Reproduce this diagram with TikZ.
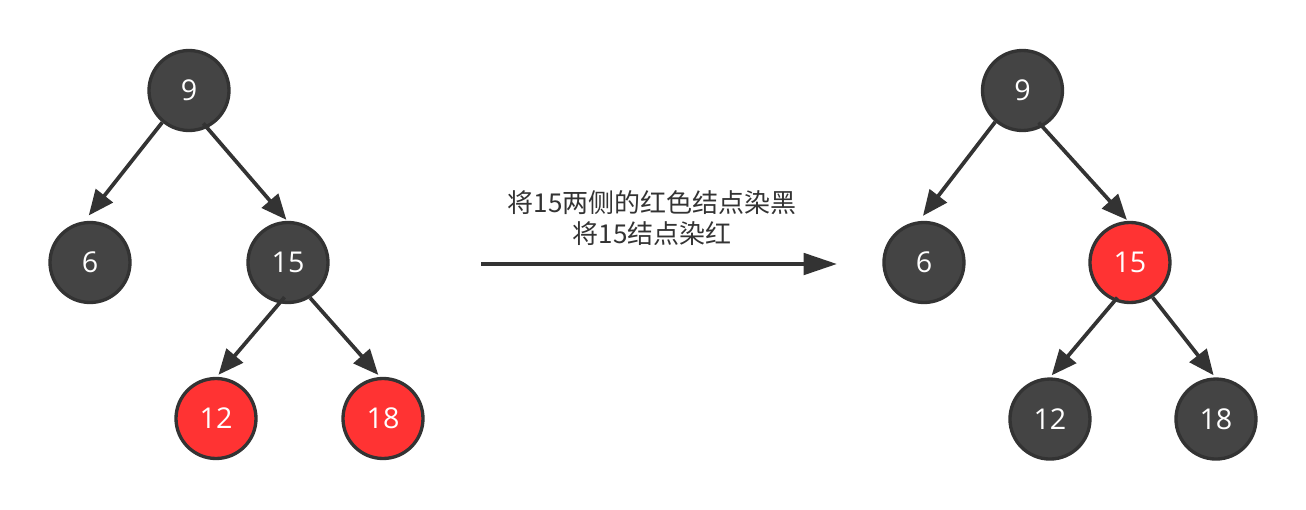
\documentclass[tikz,border=0pt]{standalone}
\usepackage{fontspec}
\setmainfont{Open Sans}
\newfontfamily\cjk{Noto Sans CJK SC}
\usepackage{xcolor}
\usetikzlibrary{arrows.meta,positioning}
\definecolor{nodegray}{HTML}{444444}
\definecolor{linegray}{HTML}{333333}
\definecolor{nodered}{HTML}{FF3333}

\begin{document}
\begin{tikzpicture}[
  x=0.75pt, y=-0.75pt,
  every node/.style={font=\fontsize{21.5pt}{25pt}\selectfont},
  blacknode/.style={
    draw=linegray, circle, fill=nodegray, text=white,
    line width=2.5pt, minimum size=60pt, inner sep=0pt, on grid
  },
  rednode/.style={blacknode, fill=nodered},
  treeedge/.style={-{Triangle[length=19pt,width=16pt]}, draw=linegray, line width=2.8pt},
  stepedge/.style={-{Triangle[length=25pt,width=16pt]}, draw=linegray, line width=3pt}
]
\useasboundingbox (0,0) rectangle (1306,510);

% --- Tree before ---
\node[blacknode] (l9) at (189,90.5) {9};
\node[blacknode, below left=129pt and 74.25pt of l9] (l6) {6};
\node[blacknode, below right=129pt and 74.25pt of l9] (l15) {15};
\node[rednode, below left=117pt and 54pt of l15] (l12) {12};
\node[rednode, below right=117pt and 71.25pt of l15] (l18) {18};

\draw[treeedge, shorten >=5.5pt] (l9.-130) -- (l6.98);
\draw[treeedge, shorten <=-4.5pt, shorten >=1pt] (l9.-64) -- (l15.91);
\draw[treeedge, shorten <=-6pt, shorten >=2pt] (l15.-102) -- (l12.89);
\draw[treeedge, shorten >=2pt] (l15.-58) -- (l18.94);

% --- Recolouring step ---
\coordinate (arrowstart) at (481,264);
\coordinate (arrowend) at (837,264);
\draw[stepedge] (arrowstart) -- (arrowend);
\node[font=\cjk\fontsize{19.5pt}{23pt}\selectfont, text=linegray, align=center] (note) at (652,218)
  {将15两侧的红色结点染黑\\将15结点染红};

% --- Tree after ---
\node[blacknode] (r9) at (1022.5,90.5) {9};
\node[blacknode, below left=129pt and 73.9pt of r9] (r6) {6};
\node[rednode, below right=129pt and 80.6pt of r9] (r15) {15};
\node[blacknode, below left=117.4pt and 60pt of r15] (r12) {12};
\node[blacknode, below right=117.4pt and 64.5pt of r15] (r18) {18};

\draw[treeedge, shorten >=5pt] (r9.-131) -- (r6.97);
\draw[treeedge, shorten <=-4.5pt, shorten >=1pt] (r9.-61) -- (r15.93);
\draw[treeedge, shorten <=-3.5pt, shorten >=2pt] (r15.-112) -- (r12.90);
\draw[treeedge, shorten >=2pt] (r15.-57) -- (r18.91);

\end{tikzpicture}
\end{document}
